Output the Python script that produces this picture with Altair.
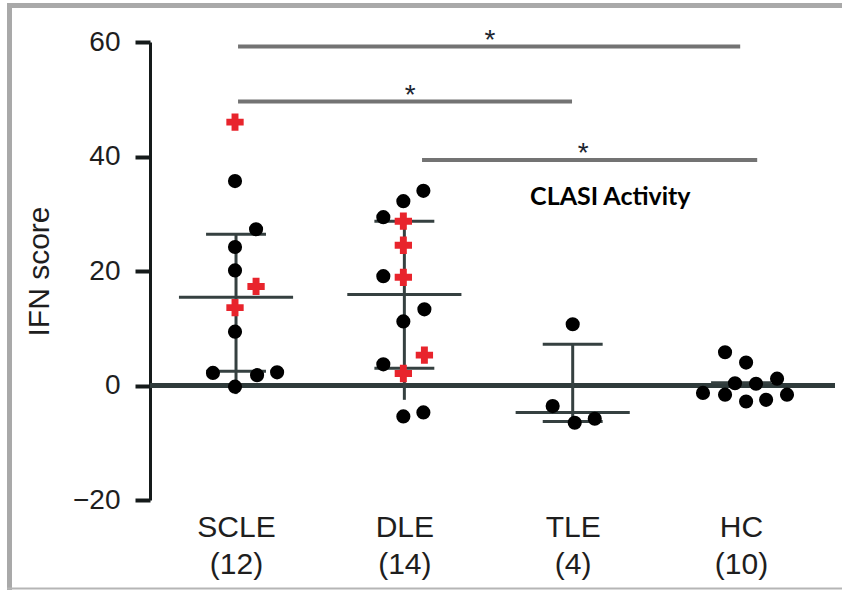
import altair as alt
import pandas as pd

# ---------------- data ----------------
groups = ["SCLE", "DLE", "TLE", "HC"]
counts = [12, 14, 4, 10]
centers = [1, 2, 3, 4]

# individual points: x position (category units), IFN score, red = CLASI activity
scle_x = [0.994, 0.994, 1.119, 0.994, 0.994, 1.119, 0.994, 0.994, 0.863, 1.125, 1.244, 0.994]
scle_y = [46.0, 35.7, 27.3, 24.2, 20.1, 17.3, 13.6, 9.4, 2.2, 1.8, 2.3, -0.2]
scle_red = [1, 0, 0, 0, 0, 1, 1, 0, 0, 0, 0, 0]

dle_x = [2.113, 1.994, 1.875, 1.994, 1.994, 1.875, 1.994, 2.119, 1.994, 2.119, 1.875, 1.994, 1.994, 2.113]
dle_y = [34.0, 32.2, 29.4, 28.7, 24.5, 19.1, 18.9, 13.3, 11.2, 5.3, 3.7, 2.1, -5.4, -4.7]
dle_red = [0, 0, 0, 1, 1, 0, 1, 0, 0, 1, 0, 1, 0, 0]

tle_x = [3.0, 2.881, 3.012, 3.131]
tle_y = [10.7, -3.6, -6.5, -5.8]
tle_red = [0, 0, 0, 0]

hc_x = [3.905, 4.030, 4.214, 3.774, 3.905, 4.030, 4.149, 4.273, 3.964, 4.089]
hc_y = [5.8, 4.0, 1.2, -1.3, -1.6, -2.8, -2.5, -1.6, 0.4, 0.3]
hc_red = [0] * 10

# summary statistics (mean, SD caps, whisker extent)
means = [15.4, 15.9, -4.7, 0.5]
cap_upper = [26.4, 28.7, 7.2, 0.5]
cap_lower = [2.5, 3.0, -6.3, 0.5]
whisk_low = [-1.5, -2.5, -6.3, 0.5]
wide_mean = [1, 1, 1, 0]

# significance bars
sig_x1 = [1.012, 1.012, 2.105]
sig_x2 = [3.995, 2.996, 4.096]
sig_y = [59.2, 49.6, 39.4]
star_x = [2.509, 2.034, 3.062]

note_text = ["CLASI Activity"]
note_x = [2.747]
note_y = [33.0]

# ---------------- tables ----------------
pts = pd.DataFrame({
    "x": scle_x + dle_x + tle_x + hc_x,
    "v": scle_y + dle_y + tle_y + hc_y,
    "red": scle_red + dle_red + tle_red + hc_red,
})
black_pts = pts[pts.red == 0]
red_pts = pts[pts.red == 1]

MEAN_HALF = 0.339
CAP_HALF = 0.178
summ = pd.DataFrame({"c": centers, "m": means, "hi": cap_upper, "lo": cap_lower,
                     "wl": whisk_low, "wide": wide_mean})
summ["mx1"] = summ.c - summ.wide.map({1: MEAN_HALF, 0: CAP_HALF})
summ["mx2"] = summ.c + summ.wide.map({1: MEAN_HALF, 0: CAP_HALF})
caps = pd.DataFrame({
    "x1": [c - CAP_HALF for c in centers[:3]] * 2,
    "x2": [c + CAP_HALF for c in centers[:3]] * 2,
    "v": cap_upper[:3] + cap_lower[:3],
})
sig = pd.DataFrame({"x1": sig_x1, "x2": sig_x2, "y": sig_y, "sx": star_x, "t": ["*"] * 3})
note = pd.DataFrame({"x": note_x, "y": note_y, "t": note_text})
one = pd.DataFrame({"a": [0]})

# ---------------- scales / axes ----------------
label_expr = " : ".join(
    f"datum.value == {c} ? ['{g}', '({n})']" for c, g, n in zip(centers, groups, counts)
) + " : ''"

FONT = "Arial, Liberation Sans, sans-serif"
xscale = alt.Scale(domain=[0.489, 4.576], nice=False, zero=False)
yscale = alt.Scale(domain=[-20, 60], nice=False, zero=False)
xaxis = alt.Axis(values=centers, labelExpr=label_expr, domain=False, ticks=False, grid=False,
                 labelFontSize=30, labelLineHeight=37, labelPadding=12, title=None,
                 labelFont=FONT, labelColor="#1e1e1e", labelAngle=0)
yaxis = alt.Axis(values=[-20, 0, 20, 40, 60], format="d", tickSize=15, tickWidth=4,
                 tickColor="#151a1a", domainColor="#151a1a", domainWidth=3, grid=False,
                 labelFontSize=28, labelFont=FONT, labelColor="#1e1e1e",
                 labelPadding=15, title="IFN score", titleFontSize=30,
                 titleFont=FONT, titleFontWeight="normal", titleColor="#1e1e1e",
                 titlePadding=18)

LINE = "#354040"

zero_line = alt.Chart(one).mark_rule(color="#2f3b3b", strokeWidth=5).encode(
    x=alt.value(0), x2=alt.value(685), y=alt.datum(0, scale=yscale, axis=yaxis))

sig_bars = alt.Chart(sig).mark_rule(color="#737373", strokeWidth=4).encode(
    x=alt.X("x1:Q", scale=xscale, axis=xaxis), x2="x2:Q",
    y=alt.Y("y:Q", scale=yscale, axis=yaxis))
stars = alt.Chart(sig).mark_text(fontSize=28, font=FONT, color="#1c2530",
                                 baseline="alphabetic", dy=2).encode(
    x=alt.X("sx:Q", scale=xscale, axis=xaxis), y=alt.Y("y:Q", scale=yscale, axis=yaxis),
    text="t:N")

whiskers = alt.Chart(summ.iloc[:3]).mark_rule(color=LINE, strokeWidth=3).encode(
    x=alt.X("c:Q", scale=xscale, axis=xaxis), y=alt.Y("hi:Q", scale=yscale, axis=yaxis),
    y2="wl:Q")
cap_lines = alt.Chart(caps).mark_rule(color=LINE, strokeWidth=3).encode(
    x=alt.X("x1:Q", scale=xscale, axis=xaxis), x2="x2:Q",
    y=alt.Y("v:Q", scale=yscale, axis=yaxis))
mean_lines = alt.Chart(summ).mark_rule(color=LINE, strokeWidth=3).encode(
    x=alt.X("mx1:Q", scale=xscale, axis=xaxis), x2="mx2:Q",
    y=alt.Y("m:Q", scale=yscale, axis=yaxis))

black = alt.Chart(black_pts).mark_point(shape="circle", filled=True, color="#000000",
                                        size=200, opacity=1).encode(
    x=alt.X("x:Q", scale=xscale, axis=xaxis), y=alt.Y("v:Q", scale=yscale, axis=yaxis))
red = alt.Chart(red_pts).mark_point(shape="cross", filled=True, color="#e8242c",
                                    size=300, opacity=1).encode(
    x=alt.X("x:Q", scale=xscale, axis=xaxis), y=alt.Y("v:Q", scale=yscale, axis=yaxis))

note_mark = alt.Chart(note).mark_text(font="Lato", fontWeight="bold", fontSize=25,
                                      color="#000000", align="left", baseline="middle").encode(
    x=alt.X("x:Q", scale=xscale, axis=xaxis), y=alt.Y("y:Q", scale=yscale, axis=yaxis),
    text="t:N")

FRAME = "#a9a9a9"
frame_left = alt.Chart(one).mark_rule(color=FRAME, strokeWidth=5).encode(
    x=alt.value(-140.5), y=alt.value(-39), y2=alt.value(548))
frame_top = alt.Chart(one).mark_rule(color=FRAME, strokeWidth=5).encode(
    x=alt.value(-143), x2=alt.value(692), y=alt.value(-36.5))
frame_bottom = alt.Chart(one).mark_rule(color="#b5b5b5", strokeWidth=2).encode(
    x=alt.value(-143), x2=alt.value(692), y=alt.value(546.5))

chart = alt.layer(
    zero_line, sig_bars, stars, whiskers, cap_lines, mean_lines, black, red, note_mark,
    frame_left, frame_top, frame_bottom,
).properties(
    width=688, height=458,
    padding={"left": 150, "top": 42, "right": 4, "bottom": 90},
    autosize=alt.AutoSizeParams(type="none"),
    background="white",
).configure_view(stroke=None)

chart.save("out.html", embed_options={"renderer": "svg", "actions": False})
